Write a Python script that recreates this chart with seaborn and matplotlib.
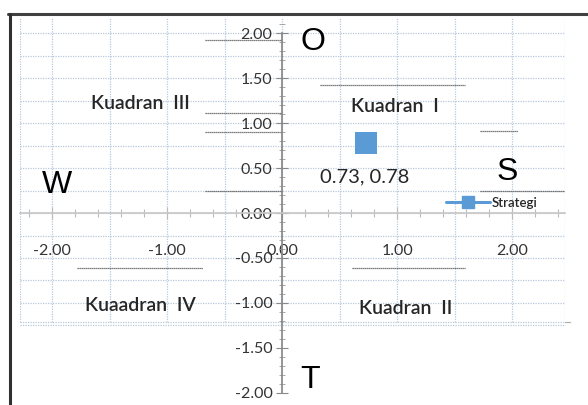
import numpy as np
import pandas as pd
import seaborn as sns
import matplotlib
matplotlib.use("Agg")
import matplotlib.pyplot as plt
from matplotlib.lines import Line2D
from matplotlib.ticker import MultipleLocator, FormatStrFormatter

# ---- data ----
series_name = "Strategi"
strategy_x = [0.73]
strategy_y = [0.78]
point_label = "0.73, 0.78"
x_ticks = [-2.0, -1.0, 0.0, 1.0, 2.0]
y_ticks = [-2.0, -1.5, -1.0, -0.5, 0.0, 0.5, 1.0, 1.5, 2.0]
quadrant_labels = ["Kuadran  I", "Kuadran  II", "Kuadran  III", "Kuaadran  IV"]
quadrant_x = [0.98, 1.07, -1.23, -1.23]
quadrant_y = [1.18, -1.06, 1.22, -1.03]
swot_letters = ["S", "W", "O", "T"]
swot_x = [1.96, -1.96, 0.27, 0.24]
swot_y = [0.46, 0.31, 1.90, -1.86]

df = pd.DataFrame({"x": strategy_x, "y": strategy_y, "series": [series_name]})

sns.set_theme(style="white")
plt.rcParams["font.family"] = ["Lato", "DejaVu Sans"]

blue = "#5b9bd5"
fig = plt.figure(figsize=(5.88, 4.05), dpi=100)
ax = fig.add_axes([20 / 588, 1 - 400 / 405, 545 / 588, 382 / 405])
ax.set_xlim(-2.28, 2.46)
ax.set_ylim(-2.08, 2.17)

# cell-like dotted grid (only within upper area)
grid_col = "#b9c9dd"
gx = np.arange(-2.0, 2.51, 0.5)
gy = np.arange(-1.25, 2.01, 0.25)
ax.vlines(np.r_[-2.28, gx, 2.46], -1.21, 2.17, colors=grid_col, linestyles=(0, (1, 1)), linewidth=0.9, zorder=0)
ax.hlines(np.r_[gy, -1.21], -2.28, 2.46, colors=grid_col, linestyles=(0, (1, 1)), linewidth=0.9, zorder=0)

# darker cell border segments
dark = "#555555"
seg_y = [1.92, 1.11, 0.90, 0.24, 1.42, 0.91, 0.24, -0.61, -0.61]
seg_x0 = [-0.67, -0.67, -0.67, -0.67, 0.33, 1.72, 1.72, -1.78, 0.61]
seg_x1 = [0.0, 0.0, 0.0, 0.0, 1.59, 2.05, 2.46, -0.69, 1.59]
ax.hlines(seg_y, seg_x0, seg_x1, colors=dark, linestyles=(0, (1, 0.6)), linewidth=0.9, zorder=0.5)

sns.scatterplot(data=df, x="x", y="y", marker="s", s=230, color=blue,
                edgecolor=blue, linewidth=0, legend=False, ax=ax, zorder=3)

ax.text(strategy_x[0] - 0.01, strategy_y[0] - 0.38, point_label, ha="center", va="center",
        fontsize=14.5, color="#262626")

for t, x, y in zip(quadrant_labels, quadrant_x, quadrant_y):
    ax.text(x, y, t, ha="center", va="center", fontsize=14, color="#262626",
            fontweight="semibold")
for t, x, y in zip(swot_letters, swot_x, swot_y):
    ax.text(x, y, t, ha="center", va="center", fontsize=23, color="black",
            family=["Liberation Sans", "DejaVu Sans"])

# axes through origin
for s in ["top", "right"]:
    ax.spines[s].set_visible(False)
ax.spines["left"].set_position(("data", 0))
ax.spines["bottom"].set_position(("data", 0))
ax.spines["left"].set_color("#888888")
ax.spines["bottom"].set_color("#c8c8c8")
ax.spines["left"].set_bounds(-2.0, 2.0)

ax.set_xticks(x_ticks)
ax.set_yticks(y_ticks)
ax.xaxis.set_major_formatter(FormatStrFormatter("%.2f"))
ax.yaxis.set_major_formatter(FormatStrFormatter("%.2f"))
ax.xaxis.set_minor_locator(MultipleLocator(0.2))
ax.yaxis.set_minor_locator(MultipleLocator(0.1))
ax.tick_params(axis="y", which="major", direction="inout", length=8, width=0.8,
               color="#888888", labelsize=11.5, labelcolor="#333333", pad=3, left=True)
ax.tick_params(axis="y", which="minor", direction="inout", length=5, width=0.6,
               color="#999999", left=True)
ax.tick_params(axis="x", which="major", direction="inout", length=8, width=0.8,
               color="#bbbbbb", labelsize=11.5, labelcolor="#333333", pad=18, bottom=True)
ax.tick_params(axis="x", which="minor", direction="inout", length=6, width=0.8,
               color="#bbbbbb", bottom=True)
ax.set_xlabel("")
ax.set_ylabel("")

handle = Line2D([0], [0], color=blue, marker="s", markersize=8, linewidth=2.2)
leg = ax.legend([handle], [series_name], loc="center left",
                bbox_to_anchor=((446 - 20) / 545, (400 - 203) / 382),
                frameon=False, handlelength=3.3, handletextpad=0.15,
                borderpad=0, borderaxespad=0,
                prop={"size": 9.5, "weight": "semibold"})

# outer Excel frame
fig.add_artist(Line2D([8 / 588, 1.0], [1 - 14 / 405] * 2, color="#404040", linewidth=2.2))
fig.add_artist(Line2D([10 / 588] * 2, [0, 1 - 14 / 405], color="#303030", linewidth=2.2))
fig.add_artist(Line2D([565 / 588, 570 / 588], [1 - 322 / 405] * 2, color="#aaaaaa", linewidth=0.8))

fig.savefig("out.png", dpi=100)
